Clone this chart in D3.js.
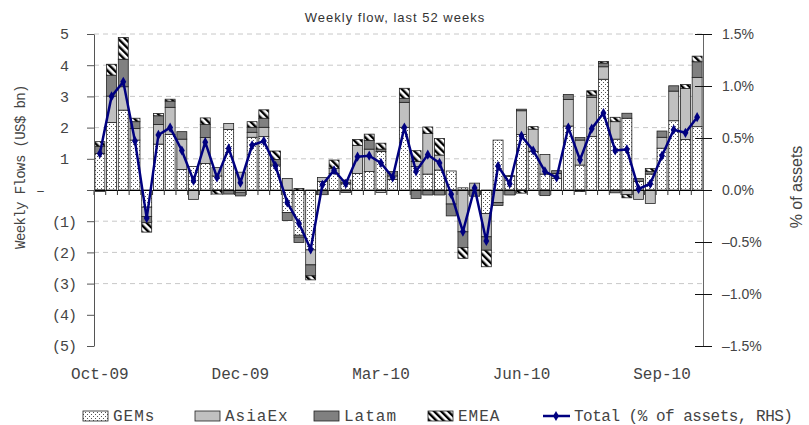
<!DOCTYPE html>
<html>
<head>
<meta charset="utf-8">
<script src="https://cdn.jsdelivr.net/npm/d3@7"></script>
<style>
  body { margin: 0; background: #fff; }
  svg { display: block; }
  .mono { font-family: "Liberation Mono", "Courier New", monospace; }
  .sans { font-family: "Liberation Sans", Arial, sans-serif; }
</style>
</head>
<body>
<svg id="chart" width="809" height="425"></svg>
<script>
// weekly flows, US$ bn, by region (52 weeks)
const seriesNames = ["GEMs", "AsiaEx", "Latam", "EMEA"];
const gems   = [1.17, 2.16, 2.56, 1.60, -0.55, 1.47, 1.78, 0.66, 0.75, 0.85, 0.45, 1.94, -0.07, 1.69, 1.71, 0.80, -0.72, -1.45, -1.92, 0.27, 0.53, 0.20, 0.53, 0.59, 1.23, 0.34, 2.01, 0.75, 0.51, 0.64, 0.61, 0.07, 0.00, -0.75, 1.60, 0.43, 1.78, 1.23, 0.51, 0.37, 2.05, 0.80, 1.71, 3.55, 1.63, 2.30, 0.27, 0.51, 1.34, 2.22, 1.62, 2.03];
const asiaEx = [-0.05, 0.85, 0.75, 0.37, -0.30, 0.63, 0.87, 0.97, -0.30, 0.83, 0.27, 0.19, 0.57, 0.16, 0.30, 0.00, 0.37, -0.06, -0.48, 0.13, 0.16, 0.05, 0.90, 0.72, -0.08, 0.11, 0.80, 0.16, 1.30, 0.48, -0.45, -1.34, 0.22, -0.75, -0.40, 0.00, 0.76, 0.72, 0.63, 0.16, 0.85, 0.80, 1.26, 0.40, 0.56, -0.15, -0.30, -0.43, 0.35, 0.95, 1.63, 1.58];
const latam  = [0.23, 0.67, 0.88, 0.22, -0.20, 0.28, 0.20, 0.24, 0.00, 0.42, 0.00, -0.13, -0.12, 0.16, 0.29, 0.18, -0.26, -0.17, -0.35, -0.15, 0.00, -0.08, 0.00, 0.28, 0.08, 0.14, 0.13, -0.27, -0.16, -0.16, -0.38, -0.50, -0.20, -0.43, -0.10, -0.16, 0.05, 0.00, -0.18, 0.09, 0.16, 0.08, 0.07, 0.12, -0.09, 0.16, 0.10, 0.08, 0.20, 0.17, 0.00, 0.50];
const emea   = [0.15, 0.35, 0.70, 0.11, -0.30, 0.07, 0.06, 0.00, 0.00, 0.21, -0.13, 0.00, 0.00, 0.18, 0.27, 0.27, 0.00, 0.05, -0.13, 0.00, 0.27, 0.07, 0.19, 0.20, 0.19, 0.00, 0.32, 0.35, 0.21, 0.53, 0.00, -0.35, 0.00, -0.53, 0.00, 0.03, -0.10, 0.08, 0.00, 0.00, 0.00, -0.05, 0.14, 0.05, 0.14, -0.10, 0.00, 0.10, 0.00, 0.00, 0.13, 0.18];
// total flow as % of assets (RHS)
const totalPct = [0.35, 0.90, 1.04, 0.47, -0.27, 0.53, 0.60, 0.38, 0.09, 0.46, 0.12, 0.40, 0.07, 0.43, 0.47, 0.23, -0.12, -0.32, -0.57, 0.05, 0.19, 0.06, 0.32, 0.33, 0.26, 0.12, 0.60, 0.18, 0.34, 0.26, -0.04, -0.40, 0.02, -0.49, 0.23, 0.06, 0.52, 0.38, 0.18, 0.12, 0.60, 0.29, 0.59, 0.74, 0.38, 0.39, 0.01, 0.06, 0.33, 0.58, 0.55, 0.70];

const tickWeeks  = [0, 12, 24, 36, 48];
const tickLabels = ["Oct-09", "Dec-09", "Mar-10", "Jun-10", "Sep-10"];
const leftTicks  = [5, 4, 3, 2, 1, 0, -1, -2, -3, -4, -5];
const gridTicks  = [5, 4, 3, 2, 1, -1, -2, -3];
const rightTicks = [1.5, 1.0, 0.5, 0.0, -0.5, -1.0, -1.5];

const svg = d3.select("#chart");
const plot = {left: 94, right: 703, top: 34, bottom: 346};

const rows = d3.range(gems.length).map(i => ({
  week: i, GEMs: gems[i], AsiaEx: asiaEx[i], Latam: latam[i], EMEA: emea[i]
}));

const x = d3.scaleBand().domain(rows.map(d => d.week))
    .range([plot.left, plot.right]).paddingInner(0.15).paddingOuter(0.075);
const yL = d3.scaleLinear().domain([-5, 5]).range([plot.bottom, plot.top]);
const yR = d3.scaleLinear().domain([-1.5, 1.5]).range([plot.bottom, plot.top]);

// patterns
const defs = svg.append("defs");
const dots = defs.append("pattern").attr("id", "dots")
    .attr("patternUnits", "userSpaceOnUse").attr("width", 4).attr("height", 4);
dots.append("rect").attr("width", 4).attr("height", 4).attr("fill", "#fff");
dots.append("rect").attr("x", 1).attr("y", 0).attr("width", 1).attr("height", 1).attr("fill", "#555");
dots.append("rect").attr("x", 3).attr("y", 2).attr("width", 1).attr("height", 1).attr("fill", "#555");

const hatch = defs.append("pattern").attr("id", "hatch")
    .attr("patternUnits", "userSpaceOnUse").attr("width", 5).attr("height", 5)
    .attr("patternTransform", "rotate(-45)");
hatch.append("rect").attr("width", 5).attr("height", 5).attr("fill", "#fff");
hatch.append("rect").attr("width", 2.4).attr("height", 5).attr("fill", "#000");

const fills = {GEMs: "url(#dots)", AsiaEx: "#c0c0c0", Latam: "#808080", EMEA: "url(#hatch)"};

// gridlines
svg.append("g").selectAll("line").data(gridTicks).join("line")
    .attr("x1", plot.left).attr("x2", plot.right)
    .attr("y1", d => yL(d)).attr("y2", d => yL(d))
    .attr("stroke", "#c8c8c8").attr("stroke-dasharray", "5,4");

// stacked bars
const stacked = d3.stack().keys(seriesNames).offset(d3.stackOffsetDiverging)(rows);
svg.append("g").selectAll("g").data(stacked).join("g")
    .attr("fill", d => fills[d.key])
  .selectAll("rect").data(d => d.filter(s => s[1] !== s[0])).join("rect")
    .attr("x", d => x(d.data.week))
    .attr("width", x.bandwidth())
    .attr("y", d => yL(Math.max(d[0], d[1])))
    .attr("height", d => Math.abs(yL(d[0]) - yL(d[1])))
    .attr("stroke", "#222").attr("stroke-width", 0.8);

// zero axis with ticks at category boundaries
const half = x.step() * x.paddingInner() / 2;
const zeroAxis = svg.append("g")
    .attr("transform", `translate(0,${yL(0)})`)
    .call(d3.axisBottom(x).tickFormat("").tickSize(5).tickSizeOuter(0));
zeroAxis.selectAll(".tick").attr("transform", d => `translate(${x(d) - half},0)`);
zeroAxis.select(".domain").attr("stroke", "#000");
zeroAxis.selectAll(".tick line").attr("stroke", "#333");

// category labels at the bottom
const xLab = svg.append("g")
    .attr("transform", `translate(0,${plot.bottom})`)
    .call(d3.axisBottom(x).tickValues(tickWeeks)
      .tickFormat((d, i) => tickLabels[i]).tickSize(0).tickPadding(22));
xLab.select(".domain").remove();
xLab.selectAll("text").attr("class", "mono").attr("font-size", 16).attr("fill", "#444");

// left axis
const fmtL = d => d === 0 ? "\u2013\u00a0\u00a0\u00a0\u00a0" : d > 0 ? d + "\u00a0" : "(" + (-d) + ")";
const axL = svg.append("g").attr("transform", `translate(${plot.left},0)`)
    .call(d3.axisLeft(yL).tickValues(leftTicks).tickFormat(fmtL)
      .tickSize(7).tickPadding(11).tickSizeOuter(0));
axL.select(".domain").attr("stroke", "#555");
axL.selectAll(".tick line").attr("stroke", "#555");
axL.selectAll("text").attr("class", "mono").attr("font-size", 15)
    .attr("letter-spacing", -1).attr("fill", "#444").style("white-space", "pre");

// right axis
const fmtR = d => (d < 0 ? "\u2013" : "") + Math.abs(d).toFixed(1) + "%";
const axR = svg.append("g").attr("transform", `translate(${plot.right},0)`)
    .call(d3.axisRight(yR).tickValues(rightTicks).tickFormat(fmtR)
      .tickSize(9).tickPadding(10).tickSizeOuter(0));
axR.select(".domain").attr("stroke", "#666");
axR.selectAll(".tick line").attr("x1", -8).attr("stroke", "#111");
axR.selectAll("text").attr("class", "sans").attr("font-size", 14).attr("fill", "#444");

// total line (RHS)
const line = d3.line().x((d, i) => x(i) + x.bandwidth() / 2).y(d => yR(d));
svg.append("path").datum(totalPct).attr("d", line)
    .attr("fill", "none").attr("stroke", "#000080").attr("stroke-width", 2.5);
svg.append("g").selectAll("path").data(totalPct).join("path")
    .attr("transform", (d, i) => `translate(${x(i) + x.bandwidth() / 2},${yR(d)})`)
    .attr("d", d3.symbol(d3.symbolDiamond, 30))
    .attr("fill", "#000080");

// titles
svg.append("text").attr("class", "sans").attr("x", 395).attr("y", 22)
    .attr("text-anchor", "middle").attr("font-size", 13).attr("letter-spacing", 1)
    .attr("fill", "#333").text("Weekly flow, last 52 weeks");
svg.append("text").attr("class", "mono")
    .attr("transform", "translate(25,167) rotate(-90)")
    .attr("text-anchor", "middle").attr("font-size", 14).attr("letter-spacing", -0.6)
    .attr("fill", "#444").text("Weekly Flows (US$ bn)");
svg.append("text").attr("class", "sans")
    .attr("transform", "translate(802,187) rotate(-90)")
    .attr("text-anchor", "middle").attr("font-size", 16)
    .attr("fill", "#444").text("% of assets");

// legend
const legendX = [83, 195, 314, 428];
const lg = svg.append("g");
seriesNames.forEach((k, i) => {
  lg.append("rect").attr("x", legendX[i]).attr("y", 411).attr("width", 25).attr("height", 10)
    .attr("fill", fills[k]).attr("stroke", "#222").attr("stroke-width", 0.8);
  lg.append("text").attr("class", "mono").attr("x", legendX[i] + 30).attr("y", 421)
    .attr("font-size", 16).attr("letter-spacing", 1).attr("fill", "#444").text(k);
});
lg.append("line").attr("x1", 543).attr("x2", 570).attr("y1", 416).attr("y2", 416)
    .attr("stroke", "#000080").attr("stroke-width", 2.5);
lg.append("path").attr("transform", "translate(556,416)")
    .attr("d", d3.symbol(d3.symbolDiamond, 30)).attr("fill", "#000080");
lg.append("text").attr("class", "mono").attr("x", 574).attr("y", 421)
    .attr("font-size", 16).attr("letter-spacing", -0.5).attr("fill", "#444")
    .text("Total (% of assets, RHS)");
</script>
</body>
</html>
